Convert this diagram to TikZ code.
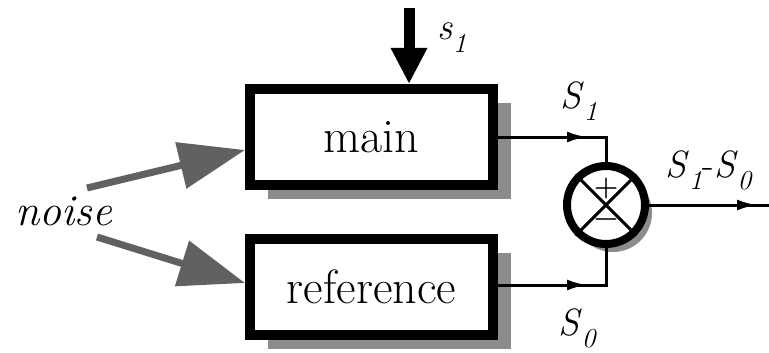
\documentclass[tikz,border=0pt]{standalone}
\usepackage{fontspec}
\newcommand\tnr{\rmfamily}
\usetikzlibrary{arrows.meta,shadows,decorations.markings,calc}
\newcommand\symlbl[3]{\tnr\fontsize{#3}{#3}\selectfont\textit{#1}\raisebox{-0.32em}{\tnr\fontsize{0.72\dimexpr#3pt\relax}{10}\selectfont\textit{#2}}}
\tikzset{
  block/.style={draw=black, fill=white, line width=10pt, minimum width=243pt, minimum height=96pt,
    font=\tnr\fontsize{48}{52}\selectfont, inner sep=0pt,
    drop shadow={shadow xshift=18pt, shadow yshift=-14pt, fill=black!45, opacity=1}},
  sumnode/.style={circle, draw=black, fill=white, line width=8pt, minimum size=78pt, inner sep=0pt,
    drop shadow={shadow xshift=7pt, shadow yshift=-8pt, fill=black!45, opacity=1}},
  wire/.style={line width=3pt, draw=black},
  noisearrow/.style={line width=7pt, draw=black!62, -{Triangle[length=66pt,width=46pt,fill=black!62]}},
  arrowat/.style={postaction={decorate}, decoration={markings, mark=at position #1 with {\arrow{Latex[length=20pt,width=11pt]}}}},
  lbl/.style={inner sep=0pt}
}
\begin{document}
\begin{tikzpicture}[x=1pt,y=-1pt]
\useasboundingbox (0,0) rectangle (769,353);
% blocks
\node[block] (main) at (371.5,137) {main};
\node[block] (ref) at (371.5,286.5) {reference};
% summing junction
\node[sumnode] (sum) at (606,205) {};
\draw[line width=3pt] (sum.north west) -- (sum.south east);
\draw[line width=3pt] (sum.north east) -- (sum.south west);
\node[lbl, font=\tnr\bfseries\fontsize{28}{28}\selectfont] (plus) at (606,189) {+};
\node[lbl, font=\tnr\bfseries\fontsize{28}{28}\selectfont] (minus) at (606,223) {\textminus};
% input s1
\coordinate (sin) at (409,8);
\draw[line width=11pt, -{Triangle[length=36pt,width=34pt]}] (sin) -- (sin |- main.north);
\node[lbl, anchor=base west] (s1lbl) at (437,40) {\symlbl{s}{1}{38}};
% noise
\node[lbl, anchor=base, font=\tnr\fontsize{44}{44}\selectfont\itshape] (noise) at (63.5,225) {noise};
\coordinate (n1) at (87,188);
\coordinate (n2) at (97,237);
\coordinate (t1) at (245,150);
\coordinate (t2) at (245,283);
\draw[noisearrow] (n1) -- (t1);
\draw[noisearrow] (n2) -- (t2);
% wires to sum
\draw[wire, arrowat=89pt] (main.east) -| (sum.north);
\draw[wire, arrowat=89pt] (ref.east |- 0,285) -| (sum.south);
\coordinate (out) at (769,205);
\draw[wire, arrowat=108pt] (sum.east) -- (out);
% labels
\node[lbl, anchor=base west] (S1) at (560,108) {\symlbl{S}{1}{38}};
\node[lbl, anchor=base west] (S0) at (558,335) {\symlbl{S}{0}{38}};
\node[lbl, anchor=base west] (S1S0) at (665,177) {\symlbl{S}{1}{38}{\tnr\fontsize{38}{38}\selectfont -}\symlbl{S}{0}{38}};
\end{tikzpicture}
\end{document}
